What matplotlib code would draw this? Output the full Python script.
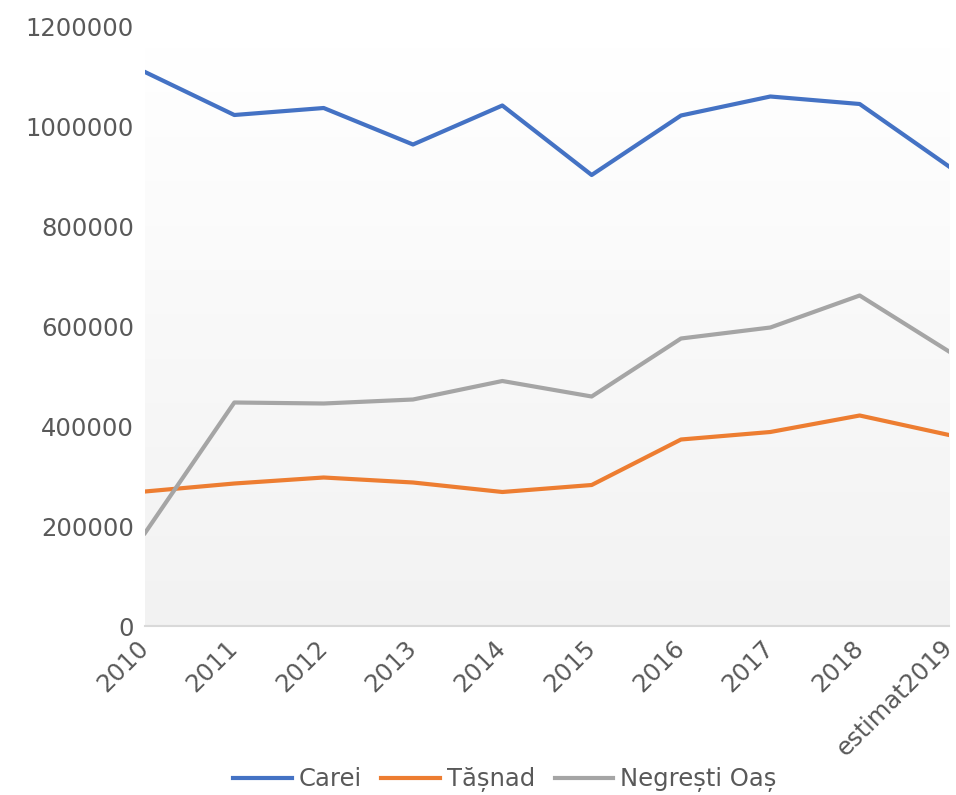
import matplotlib
matplotlib.use("Agg")
import matplotlib.pyplot as plt
import numpy as np
from matplotlib.colors import LinearSegmentedColormap

categories = ["2010", "2011", "2012", "2013", "2014", "2015", "2016", "2017", "2018", "estimat2019"]
carei = [1108000, 1022000, 1036000, 963000, 1041000, 902000, 1021000, 1059000, 1044000, 919000]
tasnad = [269000, 285000, 297000, 287000, 268000, 282000, 373000, 388000, 421000, 382000]
negresti = [186000, 447000, 445000, 453000, 490000, 459000, 575000, 597000, 661000, 549000]
series_names = ["Carei", "Tășnad", "Negrești Oaș"]
colors = ["#4472C4", "#ED7D31", "#A5A5A5"]
yticks = [0, 200000, 400000, 600000, 800000, 1000000, 1200000]

FS = 17.5
plt.rcParams['font.family'] = ['DejaVu Sans']
fig = plt.figure(figsize=(9.56, 7.95), dpi=100)
ax = fig.add_axes([145/956, 1 - 626/795, (949-145)/956, (626-26)/795])

x = np.arange(len(categories))
ax.set_xlim(0, len(categories) - 1)
ax.set_ylim(0, 1200000)

# gradient background: light gray at bottom -> white at top
grad = np.linspace(0, 1, 256).reshape(-1, 1)
cmap = LinearSegmentedColormap.from_list("g", ["#f2f2f2", "#ffffff"])
ax.imshow(grad, cmap=cmap, aspect="auto", extent=(0, len(categories) - 1, 0, 1158000),
          origin="lower", zorder=0, vmin=0, vmax=1)

for vals, name, c in zip([carei, tasnad, negresti], series_names, colors):
    ax.plot(x, vals, color=c, lw=3, label=name, zorder=3, solid_joinstyle="round")

for s in ["top", "right", "left"]:
    ax.spines[s].set_visible(False)
ax.spines["bottom"].set_color("#d9d9d9")
ax.spines["bottom"].set_linewidth(1.5)

ax.set_yticks(yticks)
ax.set_yticklabels([str(v) for v in yticks], fontsize=FS, color="#595959")
ax.set_xticks(x)
ax.set_xticklabels(categories, rotation=45, ha="right", va="center", rotation_mode="anchor",
                   fontsize=FS, color="#595959")
ax.tick_params(axis="both", length=0)
ax.tick_params(axis="y", pad=8)
ax.tick_params(axis="x", pad=13)

fig.legend(loc="center", bbox_to_anchor=(505/956, 1 - 780/795), ncol=3, frameon=False,
           fontsize=FS, labelcolor="#595959", handlelength=2.4, columnspacing=0.8,
           handletextpad=0.3)

fig.savefig("out.png", dpi=100, facecolor="white")
